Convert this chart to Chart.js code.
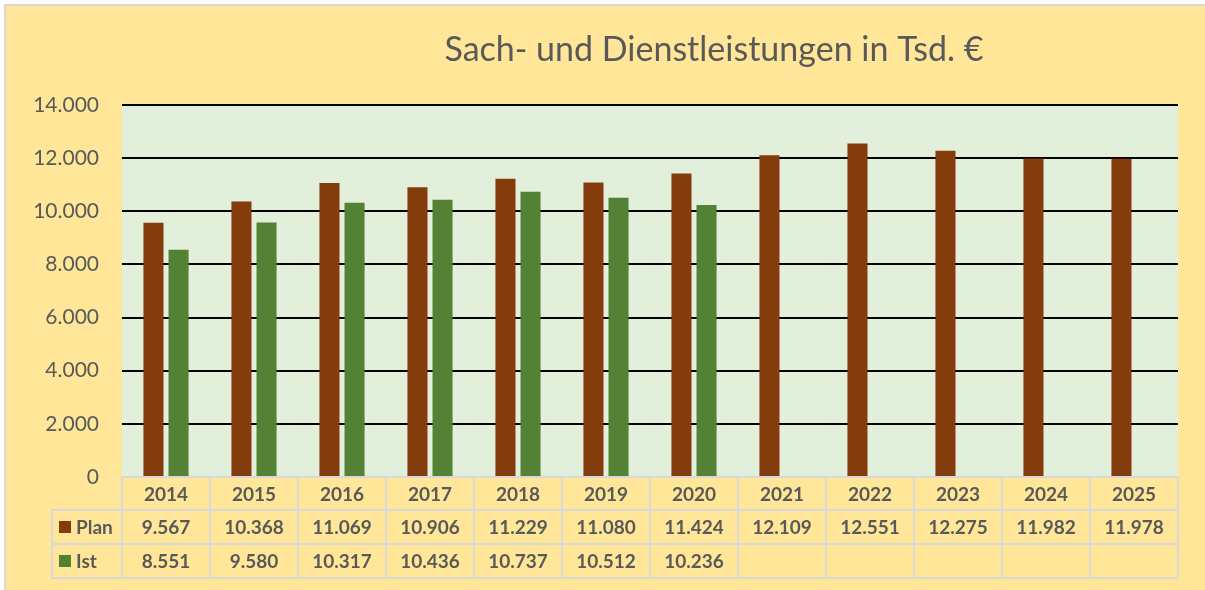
<!DOCTYPE html>
<html lang="de">
<head>
<meta charset="utf-8">
<title>Sach- und Dienstleistungen</title>
<script src="https://cdn.jsdelivr.net/npm/chart.js@4.4.1/dist/chart.umd.min.js"></script>
<style>
    html, body { margin: 0; padding: 0; background: #ffffff; }
    #wrap { width: 1205px; height: 590px; position: relative; }
</style>
</head>
<body>
<div id="wrap"><canvas id="chart" width="1205" height="590"></canvas></div>
<script>
// Chart data
const years = ['2014', '2015', '2016', '2017', '2018', '2019', '2020', '2021', '2022', '2023', '2024', '2025'];
const planValues = [9567, 10368, 11069, 10906, 11229, 11080, 11424, 12109, 12551, 12275, 11982, 11978];
const istValues = [8551, 9580, 10317, 10436, 10737, 10512, 10236, null, null, null, null, null];
const seriesNames = ['Plan', 'Ist'];
const titleText = 'Sach- und Dienstleistungen in Tsd. €';

const BG = '#FFE699';
const PLOT_BG = '#E2EFDA';
const TEXT = '#595959';
const TABLE_LINE = '#D9D9D9';
const PLAN_COLOR = '#843C0C';
const IST_COLOR = '#548235';

const fmt = v => (v === null || v === undefined) ? '' : v.toLocaleString('de-DE');

// Background, outer border and plot area fill
const backgroundPlugin = {
    id: 'backgroundPlugin',
    beforeDraw(chart) {
        const { ctx, chartArea } = chart;
        ctx.save();
        ctx.fillStyle = '#ffffff';
        ctx.fillRect(0, 0, chart.width, chart.height);
        ctx.fillStyle = BG;
        ctx.fillRect(5, 5, chart.width - 5, chart.height - 5);
        ctx.strokeStyle = '#D9D9D9';
        ctx.lineWidth = 2;
        ctx.beginPath();
        ctx.moveTo(5, chart.height);
        ctx.lineTo(5, 5);
        ctx.lineTo(chart.width, 5);
        ctx.stroke();
        ctx.fillStyle = PLOT_BG;
        ctx.fillRect(chartArea.left, chartArea.top, chartArea.right - chartArea.left, chartArea.bottom - chartArea.top);
        ctx.restore();
    }
};

// Title and data table below the plot
const tablePlugin = {
    id: 'tablePlugin',
    afterDraw(chart) {
        const { ctx, chartArea } = chart;
        const xScale = chart.scales.x;
        const left = chartArea.left;
        const right = chartArea.right;
        const colW = (right - left) / years.length;
        const rowTop = [chartArea.bottom, 510, 544, 578];
        const legendLeft = 52;

        ctx.save();
        // title
        ctx.fillStyle = TEXT;
        ctx.font = '34px Lato, "Open Sans", sans-serif';
        ctx.textAlign = 'center';
        ctx.textBaseline = 'middle';
        ctx.fillText(titleText, 714, 50);

        // grid of the table
        ctx.strokeStyle = TABLE_LINE;
        ctx.lineWidth = 2;
        ctx.beginPath();
        ctx.moveTo(left, rowTop[0]);
        ctx.lineTo(right, rowTop[0]);
        for (let r = 1; r < rowTop.length; r++) {
            ctx.moveTo(legendLeft, rowTop[r]);
            ctx.lineTo(right, rowTop[r]);
        }
        ctx.moveTo(legendLeft, rowTop[1]);
        ctx.lineTo(legendLeft, rowTop[3]);
        for (let i = 0; i <= years.length; i++) {
            const x = left + i * colW;
            ctx.moveTo(x, rowTop[0]);
            ctx.lineTo(x, rowTop[3]);
        }
        ctx.stroke();

        // texts
        ctx.fillStyle = TEXT;
        ctx.font = 'bold 19px Lato, "Open Sans", sans-serif';
        ctx.textAlign = 'center';
        years.forEach((y, i) => {
            const cx = xScale.getPixelForValue(i);
            ctx.fillText(y, cx, (rowTop[0] + rowTop[1]) / 2 + 1);
            ctx.fillText(fmt(planValues[i]), cx, (rowTop[1] + rowTop[2]) / 2 + 1);
            ctx.fillText(fmt(istValues[i]), cx, (rowTop[2] + rowTop[3]) / 2 + 1);
        });

        // legend keys
        const colors = [PLAN_COLOR, IST_COLOR];
        seriesNames.forEach((name, r) => {
            const cy = (rowTop[r + 1] + rowTop[r + 2]) / 2;
            ctx.fillStyle = colors[r];
            ctx.fillRect(59, cy - 6, 12, 12);
            ctx.fillStyle = TEXT;
            ctx.textAlign = 'left';
            ctx.fillText(name, 76, cy + 1);
        });
        ctx.restore();
    }
};

new Chart(document.getElementById('chart'), {
    type: 'bar',
    data: {
        labels: years,
        datasets: [
            {
                label: seriesNames[0],
                data: planValues,
                backgroundColor: PLAN_COLOR,
                barPercentage: 0.8,
                categoryPercentage: 0.57
            },
            {
                label: seriesNames[1],
                data: istValues,
                backgroundColor: IST_COLOR,
                barPercentage: 0.8,
                categoryPercentage: 0.57
            }
        ]
    },
    options: {
        responsive: false,
        animation: false,
        layout: {
            padding: { left: 0, top: 105, right: 27, bottom: 113 }
        },
        plugins: {
            legend: { display: false },
            title: { display: false },
            tooltip: { enabled: false }
        },
        scales: {
            x: {
                grid: { display: false },
                border: { display: false },
                ticks: { display: false },
                afterFit(scale) { scale.height = 0; }
            },
            y: {
                min: 0,
                max: 14000,
                ticks: {
                    stepSize: 2000,
                    color: TEXT,
                    padding: 23,
                    font: { family: 'Lato, "Open Sans", sans-serif', size: 21 },
                    callback: v => fmt(v)
                },
                grid: { color: '#000000', lineWidth: 2, drawTicks: false },
                border: { display: false },
                afterFit(scale) { scale.width = 122; }
            }
        }
    },
    plugins: [backgroundPlugin, tablePlugin]
});
</script>
</body>
</html>
